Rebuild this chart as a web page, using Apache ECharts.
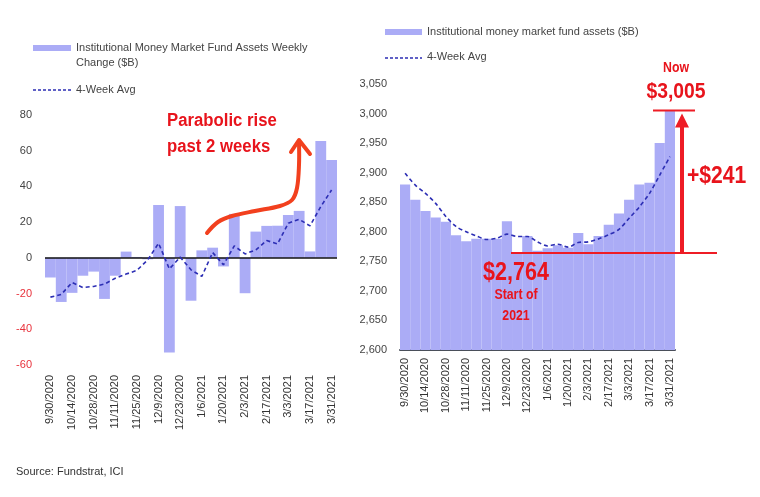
<!DOCTYPE html>
<html>
<head>
<meta charset="utf-8">
<script src="https://cdn.jsdelivr.net/npm/echarts@6/dist/echarts.min.js"></script>
<style>
  html, body { margin: 0; padding: 0; background: #fff; }
  #chart { width: 760px; height: 497px; }
</style>
</head>
<body>
<div id="chart"></div>
<script>
// weekly dates, 9/30/2020 .. 3/31/2021
const weeks = [
  '9/30/2020', '10/7/2020', '10/14/2020', '10/21/2020', '10/28/2020', '11/4/2020',
  '11/11/2020', '11/18/2020', '11/25/2020', '12/2/2020', '12/9/2020', '12/16/2020',
  '12/23/2020', '12/30/2020', '1/6/2021', '1/13/2021', '1/20/2021', '1/27/2021',
  '2/3/2021', '2/10/2021', '2/17/2021', '2/24/2021', '3/3/2021', '3/10/2021',
  '3/17/2021', '3/24/2021', '3/31/2021'
];

// left: weekly change ($B) and its 4-week avg
const weeklyChange = [-11, -24.7, -19.6, -10, -7.7, -23, -10, 3.5, 0.5, -0.8, 29.6, -53, 29,
  -24, 4.2, 5.7, -4.8, 24.6, -19.8, 14.7, 17.9, 18, 24, 26.3, 3.6, 65.5, 54.8];
const changeAvg = [-22, -20.5, -13.8, -16.6, -16, -14.7, -11.4, -9.1, -7, -1.1, 8.2, -6.2, 0.4,
  -6.7, -10.4, 3, -3.9, 6.7, 2.2, 4.5, 9.7, 7.8, 19.4, 21.6, 17.9, 28.7, 38];

// right: total assets ($B) and its 4-week avg
const assets = [2880, 2854, 2835, 2824, 2817, 2794, 2784, 2788, 2788, 2788, 2818, 2765, 2793,
  2768, 2772, 2777, 2773, 2798, 2779, 2793, 2812, 2831, 2854, 2880, 2883, 2950, 3005];
const assetsAvg = [2899, 2879, 2865, 2848, 2826, 2809, 2800, 2793, 2787, 2789, 2796, 2792, 2792,
  2783, 2776, 2779, 2774, 2782, 2783, 2788, 2795, 2804, 2823, 2842, 2865, 2896, 2927];

const startValue = 2764;
const nowValue = 3005;

const barColor = '#abacf6';
const avgColor = '#2c2eb4';
const red = '#e8141c';
const font = '"Liberation Sans", Arial, sans-serif';

const chart = echarts.init(document.getElementById('chart'));

const xLabel = {
  rotate: 90,
  interval: 1,
  fontSize: 11,
  color: '#333',
  fontFamily: font
};

chart.setOption({
  animation: false,
  backgroundColor: '#fff',
  grid: [
    { left: 45, top: 115, width: 292, height: 250 },
    { left: 400, top: 84, width: 275, height: 266 }
  ],
  xAxis: [
    {
      type: 'category', gridIndex: 0, data: weeks,
      axisLine: { show: false }, axisTick: { show: false },
      axisLabel: { ...xLabel, margin: 10 }
    },
    {
      type: 'category', gridIndex: 1, data: weeks,
      axisLine: { lineStyle: { color: '#4a4f5a', width: 2 } },
      axisTick: { show: false },
      axisLabel: { ...xLabel, margin: 8 }
    }
  ],
  yAxis: [
    {
      type: 'value', gridIndex: 0, min: -60, max: 80, interval: 20,
      splitLine: { show: false }, axisLine: { show: false }, axisTick: { show: false },
      axisLabel: {
        fontSize: 11, fontFamily: font, margin: 13,
        color: (v) => (Number(v) < 0 ? '#e8323c' : '#444')
      }
    },
    {
      type: 'value', gridIndex: 1, min: 2600, max: 3050, interval: 50,
      splitLine: { show: false }, axisLine: { show: false }, axisTick: { show: false },
      axisLabel: {
        fontSize: 11, fontFamily: font, margin: 13, color: '#444',
        formatter: (v) => v.toLocaleString('en-US')
      }
    }
  ],
  series: [
    {
      name: 'Institutional Money Market Fund Assets Weekly Change ($B)',
      type: 'bar', xAxisIndex: 0, yAxisIndex: 0,
      data: weeklyChange, barCategoryGap: '0%',
      itemStyle: { color: barColor },
      markLine: {
        silent: true, symbol: 'none', label: { show: false },
        lineStyle: { color: '#111', width: 1.5, type: 'solid' },
        data: [{ yAxis: 0 }]
      }
    },
    {
      name: '4-Week Avg', type: 'line', xAxisIndex: 0, yAxisIndex: 0,
      data: changeAvg, symbol: 'none', z: 5,
      lineStyle: { color: avgColor, width: 1.6, type: [4, 3] }
    },
    {
      name: 'Institutional money market fund assets ($B)',
      type: 'bar', xAxisIndex: 1, yAxisIndex: 1,
      data: assets, barCategoryGap: '0%',
      itemStyle: { color: barColor }
    },
    {
      name: '4-Week Avg', type: 'line', xAxisIndex: 1, yAxisIndex: 1,
      data: assetsAvg, symbol: 'none', smooth: 0.3, z: 5,
      lineStyle: { color: avgColor, width: 1.6, type: [4, 3] }
    }
  ]
});

// annotation positions tied to the right-hand value axis
const yStart = chart.convertToPixel({ yAxisIndex: 1 }, startValue);
const yNow = chart.convertToPixel({ yAxisIndex: 1 }, nowValue);

// bold red callout text, squeezed horizontally to look like a narrow face
function label(text, x, y, size, align, squeeze) {
  return {
    type: 'text', x: x, y: y, z: 20,
    scaleX: squeeze || 0.88, originX: 0, originY: 0,
    style: {
      text: text, fill: red, font: 'bold ' + size + 'px ' + font,
      align: align || 'center', verticalAlign: 'middle'
    }
  };
}

function legendText(text, x, y) {
  return {
    type: 'text', x: x, y: y, z: 20,
    style: {
      text: text, fill: '#444', font: '11px ' + font,
      align: 'left', verticalAlign: 'middle'
    }
  };
}

chart.setOption({
  graphic: [
    // left legend
    { type: 'rect', shape: { x: 33, y: 45, width: 38, height: 6 }, style: { fill: barColor } },
    legendText('Institutional Money Market Fund Assets Weekly', 76, 48),
    legendText('Change ($B)', 76, 63),
    { type: 'line', shape: { x1: 33, y1: 90, x2: 71, y2: 90 },
      style: { stroke: avgColor, lineWidth: 1.4, lineDash: [3, 2] } },
    legendText('4-Week Avg', 76, 90),

    // right legend
    { type: 'rect', shape: { x: 385, y: 29, width: 37, height: 6 }, style: { fill: barColor } },
    legendText('Institutional money market fund assets ($B)', 427, 32),
    { type: 'line', shape: { x1: 385, y1: 58, x2: 422, y2: 58 },
      style: { stroke: avgColor, lineWidth: 1.4, lineDash: [3, 2] } },
    legendText('4-Week Avg', 427, 57),

    // left annotation
    label('Parabolic rise', 167, 121, 18, 'left', 0.93),
    label('past 2 weeks', 167, 147, 18, 'left', 0.93),
    {
      type: 'polyline', z: 20,
      shape: {
        points: [[207, 233], [218, 222], [232, 216], [255, 211], [280, 206],
                 [292, 200], [297, 188], [299, 165], [299, 142]],
        smooth: 0.35
      },
      style: { stroke: '#f2401e', lineWidth: 4, lineCap: 'round', fill: null }
    },
    {
      type: 'polyline', z: 20,
      shape: { points: [[291, 152], [299, 140], [310, 154]] },
      style: { stroke: '#f2401e', lineWidth: 4, lineCap: 'round', lineJoin: 'round', fill: null }
    },

    // right annotation
    { type: 'line', z: 20, shape: { x1: 511, y1: yStart, x2: 717, y2: yStart },
      style: { stroke: '#ee1c25', lineWidth: 2 } },
    { type: 'line', z: 20, shape: { x1: 653, y1: yNow, x2: 695, y2: yNow },
      style: { stroke: '#ee1c25', lineWidth: 2 } },
    { type: 'line', z: 20, shape: { x1: 682, y1: yStart, x2: 682, y2: yNow + 14 },
      style: { stroke: '#ee1c25', lineWidth: 4 } },
    { type: 'polygon', z: 20,
      shape: { points: [[675, yNow + 17], [682, yNow + 3], [689, yNow + 17]] },
      style: { fill: '#ee1c25' } },
    label('Now', 676, 68, 14),
    label('$3,005', 676, 92, 22),
    label('+$241', 687, 176, 24, 'left'),
    label('$2,764', 516, 273, 25, 'center', 0.86),
    label('Start of', 516, 295, 14),
    label('2021', 516, 316, 14),

    // source
    { type: 'text', x: 16, y: 472,
      style: { text: 'Source: Fundstrat, ICI', fill: '#333', font: '11px ' + font,
               align: 'left', verticalAlign: 'middle' } }
  ]
});
</script>
</body>
</html>
